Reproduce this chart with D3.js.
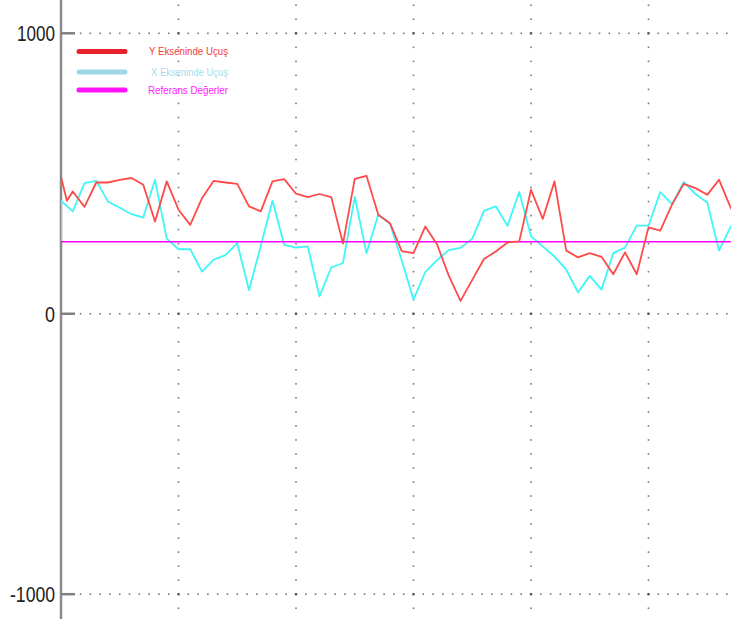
<!DOCTYPE html>
<html><head><meta charset="utf-8">
<script src="https://cdn.jsdelivr.net/npm/d3@7"></script>
<style>html,body{margin:0;padding:0;background:#fff;}svg{display:block;}</style>
</head><body>
<svg id="c" width="731" height="619"></svg>
<script>
// ---- data ----
const yTicks = [1000, 0, -1000];
const yTickLabels = ["1000", "0", "-1000"];
const xGridSamples = [10, 20, 30, 40, 50];
const referenceValue = 257;
const legendLabels = ["Y Ekseninde Uçuş", "X Ekseninde Uçuş", "Referans Değerler"];
// sample positions (index along the flight record)
const redSamples = [0, 0.5, 1, 2, 3, 4, 5, 6, 7, 8, 9, 10, 11, 12, 13, 14, 15, 16, 17, 18, 19, 20, 21, 22, 23, 24, 25, 26, 27, 28, 29, 30, 31, 32, 33, 34, 35, 36, 37, 38, 39, 40, 41, 42, 43, 44, 45, 46, 47, 48, 49, 50, 51, 52, 53, 54, 55, 56, 57, 58];
const redValues = [489, 403, 436, 381, 468, 468, 477, 484, 460, 329, 472, 371, 317, 412, 474, 468, 463, 383, 365, 472, 480, 428, 416, 427, 416, 250, 481, 492, 353, 323, 223, 216, 311, 248, 136, 46, 121, 195, 222, 254, 258, 442, 338, 472, 225, 201, 216, 203, 141, 219, 141, 308, 296, 389, 463, 448, 424, 478, 377, 330];
const cyanSamples = [0, 0, 1, 2, 3, 4, 5, 6, 7, 8, 9, 10, 11, 12, 13, 14, 15, 16, 17, 18, 19, 20, 21, 22, 23, 24, 25, 26, 27, 28, 29, 30, 31, 32, 33, 34, 35, 36, 37, 38, 39, 40, 41, 42, 43, 44, 45, 46, 47, 48, 49, 50, 51, 52, 53, 54, 55, 56, 57, 58];
const cyanValues = [257, 403, 365, 466, 474, 400, 378, 355, 343, 478, 268, 230, 230, 150, 193, 209, 252, 84, 242, 403, 246, 236, 240, 62, 165, 181, 417, 216, 353, 321, 190, 51, 148, 191, 227, 235, 268, 367, 383, 314, 434, 276, 240, 204, 157, 76, 135, 86, 216, 236, 314, 314, 434, 391, 470, 427, 397, 225, 311, 370];

// ---- chart ----
const W = 731, H = 619;
const svg = d3.select("#c");
const x = d3.scaleLinear().domain([0, 50]).range([61, 648.5]);
const y = d3.scaleLinear().domain([-1000, 1000]).range([594.2, 33.3]);

const grid = svg.append("g");
// horizontal dotted grid lines
yTicks.forEach(v => {
  const yy = y(v);
  const step = (x(10) - x(0)) / 12;
  const start = x(10) - step * Math.floor((x(10) - 78) / step);
  d3.range(start, W, step).forEach(px => {
    const big = xGridSamples.some(s => Math.abs(x(s) - px) < 1);
    grid.append("rect").attr("x", px - (big ? 1.2 : 0.8)).attr("y", yy - (big ? 1.2 : 0.8))
      .attr("width", big ? 2.4 : 1.6).attr("height", big ? 2.4 : 1.6)
      .attr("fill", big ? "#555" : "#777");
  });
});
// vertical dotted grid lines
xGridSamples.forEach(s => {
  const xx = x(s);
  const step = (y(0) - y(1000)) / 20;
  const start = y(1000) - step * Math.floor(y(1000) / step);
  d3.range(start, H, step).forEach(py => {
    if (yTicks.some(v => Math.abs(y(v) - py) < 1)) return;
    grid.append("rect").attr("x", xx - 0.8).attr("y", py - 0.8)
      .attr("width", 1.6).attr("height", 1.6).attr("fill", "#777");
  });
});

// y axis
svg.append("line").attr("x1", 61).attr("x2", 61).attr("y1", 0).attr("y2", H)
  .attr("stroke", "#8a8a8a").attr("stroke-width", 2.5);
yTicks.forEach((v, i) => {
  svg.append("line").attr("x1", 61).attr("x2", 75).attr("y1", y(v)).attr("y2", y(v))
    .attr("stroke", "#808080").attr("stroke-width", 2.5);
  const t = svg.append("text").attr("x", 55).attr("y", y(v) + 8)
    .attr("text-anchor", "end")
    .attr("font-family", "Liberation Sans, Arial, sans-serif")
    .attr("font-size", 22).attr("fill", "#222")
    .text(yTickLabels[i]);
  const widths = {"1000": 38, "0": 10, "-1000": 45};
  t.attr("textLength", widths[yTickLabels[i]]).attr("lengthAdjust", "spacingAndGlyphs");
});

const clip = svg.append("clipPath").attr("id", "plot").append("rect")
  .attr("x", 61).attr("y", 0).attr("width", W - 61).attr("height", H);

const line = d3.line().x(d => x(d[0])).y(d => y(d[1]));
const plot = svg.append("g").attr("clip-path", "url(#plot)");

plot.append("path").datum(cyanSamples.map((s, i) => [s, cyanValues[i]]))
  .attr("d", line).attr("fill", "none").attr("stroke", "#3ff6f6")
  .attr("stroke-width", 1.8).attr("stroke-linejoin", "round");
plot.append("line").attr("x1", 61).attr("x2", W)
  .attr("y1", y(referenceValue)).attr("y2", y(referenceValue))
  .attr("stroke", "#ff00ff").attr("stroke-width", 1.5);
plot.append("path").datum(redSamples.map((s, i) => [s, redValues[i]]))
  .attr("d", line).attr("fill", "none").attr("stroke", "#ff4a4a")
  .attr("stroke-width", 1.8).attr("stroke-linejoin", "round");

// legend
const legendLineColors = ["#e8222a", "#9ed8e8", "#ff10ff"];
const legendTextColors = ["#f03c3c", "#a3dcee", "#ff20ff"];
const legendY = [51.5, 72, 90];
const legendTextX = [149, 151, 148];
const legendTextW = [79, 77, 80];
legendLabels.forEach((lab, i) => {
  svg.append("line").attr("x1", 79).attr("x2", 125).attr("y1", legendY[i]).attr("y2", legendY[i])
    .attr("stroke", legendLineColors[i]).attr("stroke-width", 5).attr("stroke-linecap", "round");
  svg.append("text").attr("x", legendTextX[i]).attr("y", legendY[i] + 3.5)
    .attr("font-family", "Liberation Sans, Arial, sans-serif")
    .attr("font-size", 11).attr("fill", legendTextColors[i])
    .attr("textLength", legendTextW[i]).attr("lengthAdjust", "spacingAndGlyphs")
    .text(lab);
});
</script>
</body></html>
